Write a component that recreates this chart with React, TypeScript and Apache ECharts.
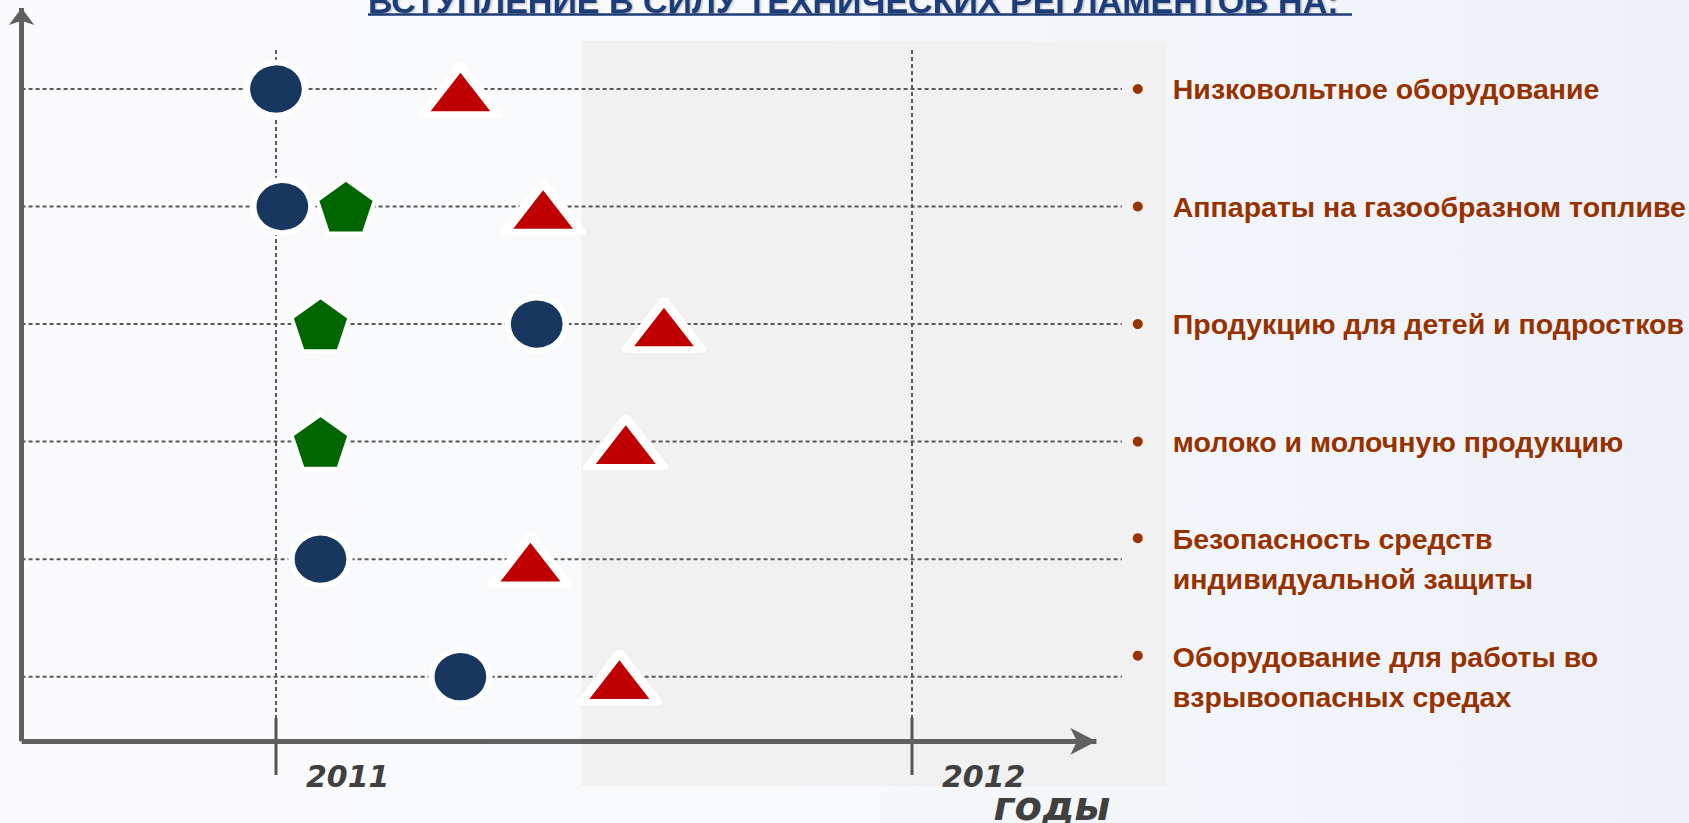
import React, { useEffect, useRef } from "react";
import * as echarts from "echarts";

// ---------- data ----------
const titleText = "ВСТУПЛЕНИЕ В СИЛУ ТЕХНИЧЕСКИХ РЕГЛАМЕНТОВ НА:";
const categories = [
  "Низковольтное оборудование",
  "Аппараты на газообразном топливе",
  "Продукцию для детей и подростков",
  "молоко и молочную продукцию",
  "Безопасность средств\nиндивидуальной защиты",
  "Оборудование для работы во\nвзрывоопасных средах",
];
const years = [2011, 2012];
const axisName = "годы";
// dates as fractional years, one per category (null = no mark)
const circleDates = [2011.0, 2011.01, 2011.41, null, 2011.07, 2011.29];
const pentagonDates = [null, 2011.11, 2011.07, 2011.07, null, null];
const triangleDates = [2011.29, 2011.42, 2011.61, 2011.55, 2011.4, 2011.54];
const shadedPeriod = [2011.48, 2012.4];

// ---------- layout constants ----------
const X_MIN = 2010.6;
const X_MAX = 2012.4;
const Y_MIN = 0;
const Y_MAX = 6.7;
const AXIS_Y = 0.45;
const X_ARROW = 2012.29;
const Y_ARROW = 6.689;
const ROW_END = 2012.33;
const BULLET_X = 2012.355;
const VLINE_TOP = 6.332;
const VLINE_BOTTOM = 0.649;
const TICK_BOTTOM = 0.164;
const PANEL_TOP = 6.408;
const PANEL_BOTTOM = 0.07;

const rowY = (i: number) => categories.length - i;

const PENTAGON =
  "path://M50,0 L97.55,34.55 L79.39,90.45 L20.61,90.45 L2.45,34.55 Z";

const FONT = "'Liberation Sans', Arial, sans-serif";
const DEJAVU = "'DejaVu Sans', sans-serif";
const DASH = { color: "#595959", width: 2, type: [4, 3] as number[] };

function points(dates: (number | null)[]) {
  const out: number[][] = [];
  dates.forEach((d, i) => {
    if (d != null) out.push([d, rowY(i)]);
  });
  return out;
}

export default function App() {
  const ref = useRef<HTMLDivElement>(null);

  useEffect(() => {
    if (!ref.current) return;
    const chart = echarts.init(ref.current, undefined, { renderer: "svg" });

    const rowLines = categories.map((c, i) => ({
      type: "line",
      name: "row-" + i,
      data: [
        [X_MIN, rowY(i)],
        [ROW_END, rowY(i)],
      ],
      symbol: "none",
      silent: true,
      lineStyle: DASH,
      z: 1,
    }));

    const yearLines = years.map((y) => ({
      type: "line",
      name: "year-" + y,
      data: [
        [y, VLINE_TOP],
        [y, VLINE_BOTTOM],
      ],
      symbol: "none",
      silent: true,
      lineStyle: DASH,
      z: 1,
    }));

    const yearTicks = years.map((y) => ({
      type: "line",
      name: "tick-" + y,
      data: [
        [y, VLINE_BOTTOM],
        [y, TICK_BOTTOM],
      ],
      symbol: "none",
      silent: true,
      lineStyle: { color: "#555555", width: 3, type: "solid" },
      z: 4,
    }));

    const option: any = {
      animation: false,
      backgroundColor: "transparent",
      title: {
        text: titleText,
        left: 368,
        top: -16,
        padding: 0,
        textStyle: {
          fontFamily: FONT,
          fontSize: 34,
          fontWeight: "bold",
          color: "#1f3d7a",
          textShadowColor: "rgba(0,0,0,0.3)",
          textShadowBlur: 2,
          textShadowOffsetX: 1,
          textShadowOffsetY: 1,
        },
      },
      graphic: [
        {
          type: "line",
          silent: true,
          shape: { x1: 368, y1: 14.5, x2: 1352, y2: 14.5 },
          style: { stroke: "#1f3d7a", lineWidth: 2.5 },
        },
      ],
      grid: {
        left: 21.6,
        top: 6.72,
        width: 1144.8,
        height: 787.5,
        containLabel: false,
        outerBoundsMode: "none",
      },
      xAxis: {
        type: "value",
        min: X_MIN,
        max: X_MAX,
        z: 10,
        axisLine: { show: false },
        axisTick: { show: false },
        splitLine: { show: false },
        axisLabel: {
          customValues: years,
          hideOverlap: false,
          formatter: (v: number) => String(Math.round(v)),
          align: "left",
          padding: [0, 0, 0, 30],
          margin: -33,
          fontFamily: DEJAVU,
          fontWeight: "bold",
          fontStyle: "italic",
          fontSize: 30,
          color: "#404040",
        },
        name: axisName,
        nameLocation: "end",
        nameGap: -56,
        nameMoveOverlap: false,
        nameTextStyle: {
          fontFamily: DEJAVU,
          fontWeight: "bold",
          fontStyle: "italic",
          fontSize: 40,
          color: "#404040",
          align: "right",
          verticalAlign: "top",
          lineHeight: 24,
        },
      },
      yAxis: { type: "value", min: Y_MIN, max: Y_MAX, show: false },
      series: [
        {
          type: "line",
          name: "panel",
          data: [],
          z: 0,
          markArea: {
            silent: true,
            z: 0,
            itemStyle: { color: "#f1f1f1", opacity: 1 },
            data: [
              [
                { coord: [shadedPeriod[0], PANEL_TOP] },
                { coord: [shadedPeriod[1], PANEL_BOTTOM] },
              ],
            ],
          },
        },
        ...rowLines,
        ...yearLines,
        ...yearTicks,
        {
          type: "line",
          name: "axes",
          data: [],
          z: 5,
          markLine: {
            silent: true,
            symbol: ["none", "arrow"],
            label: { show: false },
            lineStyle: { color: "#606060", width: 5, type: "solid" },
            data: [
              [
                { coord: [X_MIN, AXIS_Y] },
                { coord: [X_ARROW, AXIS_Y], symbolSize: [20, 26] },
              ],
              [
                { coord: [X_MIN, AXIS_Y] },
                { coord: [X_MIN, Y_ARROW], symbolSize: [19, 17] },
              ],
            ],
          },
        },
        {
          type: "scatter",
          name: "circle",
          data: points(circleDates),
          symbol: "circle",
          symbolSize: [58, 53],
          itemStyle: {
            color: "#17375e",
            borderColor: "#ffffff",
            borderWidth: 6,
            opacity: 1,
          },
          z: 3,
        },
        {
          type: "scatter",
          name: "pentagon",
          data: points(pentagonDates),
          symbol: PENTAGON,
          symbolSize: [58, 54],
          itemStyle: {
            color: "#006600",
            borderColor: "#ffffff",
            borderWidth: 4,
            borderJoin: "round",
            opacity: 1,
          },
          z: 3,
        },
        {
          type: "scatter",
          name: "triangle",
          data: points(triangleDates),
          symbol: "triangle",
          symbolSize: [76, 49],
          symbolOffset: [0, 1],
          itemStyle: {
            color: "#c00000",
            borderColor: "#ffffff",
            borderWidth: 8,
            borderJoin: "round",
            opacity: 1,
          },
          z: 3,
        },
        {
          type: "scatter",
          name: "labels",
          symbol: "circle",
          symbolSize: 10,
          itemStyle: { color: "#993300", opacity: 1 },
          z: 3,
          label: {
            show: true,
            position: "right",
            distance: 30,
            formatter: "{b}",
            fontFamily: FONT,
            fontWeight: "bold",
            fontSize: 28.5,
            lineHeight: 40,
            color: "#963200",
          },
          data: categories.map((c, i) => {
            const multi = c.indexOf("\n") >= 0;
            return {
              name: c,
              value: [BULLET_X, rowY(i)],
              symbolOffset: multi ? [0, -21] : [0, 0],
              label: multi ? { offset: [0, 21] } : {},
            };
          }),
        },
      ],
    };

    chart.setOption(option);
    return () => chart.dispose();
  }, []);

  return (
    <div
      ref={ref}
      style={{
        position: "fixed",
        left: 0,
        top: 0,
        width: 1689,
        height: 823,
        background:
          "linear-gradient(90deg, #fbfbfd 0%, #f7f9fb 45%, #edf1f7 100%)",
      }}
    />
  );
}
